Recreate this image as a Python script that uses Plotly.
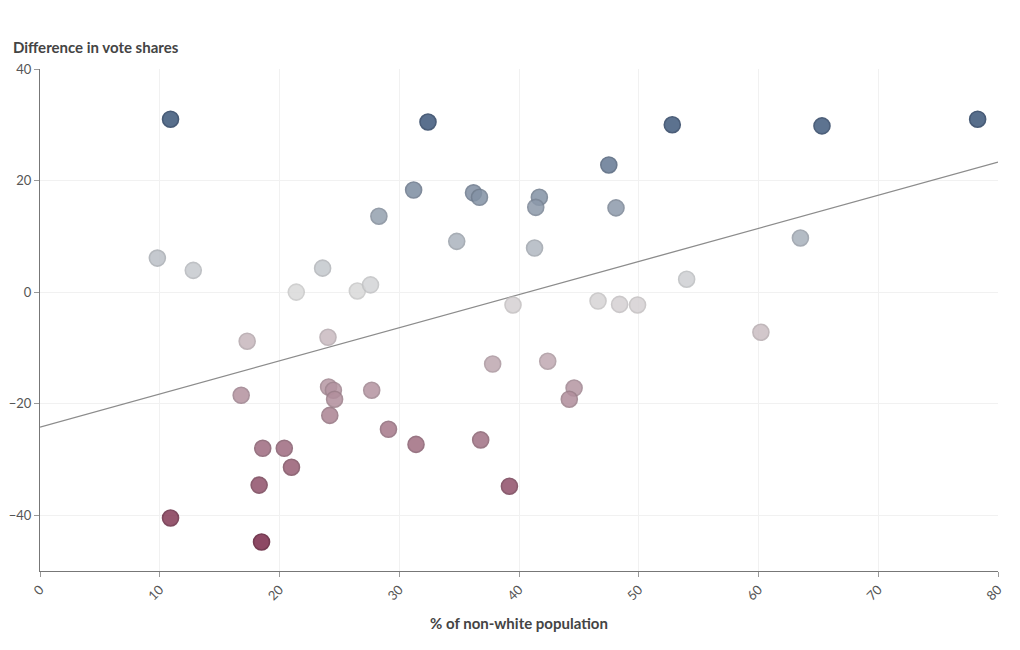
import plotly.graph_objects as go

# % of non-white population per area
pct_nonwhite = [
    10.9, 32.4, 52.8, 65.3, 78.3, 47.5, 31.2, 36.2, 36.7, 41.7,
    41.4, 48.1, 28.3, 34.8, 41.3, 63.5, 9.8, 12.8, 23.6, 21.4,
    26.5, 27.6, 39.5, 46.6, 48.4, 49.9, 54.0, 60.2, 17.3, 24.05,
    37.8, 42.4, 16.8, 24.1, 24.5, 24.6, 24.2, 27.7, 44.6, 44.2,
    29.1, 31.4, 36.8, 18.6, 20.4, 21.0, 18.3, 39.2, 10.9, 18.5,
]
# difference in vote shares
vote_diff = [
    31.0, 30.5, 30.0, 29.8, 31.0, 22.8, 18.3, 17.8, 17.0, 17.0,
    15.2, 15.1, 13.6, 9.1, 7.9, 9.7, 6.1, 3.9, 4.3, 0.0,
    0.2, 1.3, -2.3, -1.6, -2.2, -2.3, 2.3, -7.2, -8.8, -8.1,
    -12.9, -12.4, -18.5, -17.0, -17.6, -19.2, -22.1, -17.6, -17.2, -19.2,
    -24.6, -27.3, -26.5, -28.0, -28.0, -31.4, -34.6, -34.8, -40.5, -44.8,
]
# trend line
trend_x = [0, 80]
trend_y = [-24.2, 23.3]

cmin, cmax = -45, 31
mid = (0 - cmin) / (cmax - cmin)
fill_scale = [[0, "#7a2848"], [mid, "#dadada"], [1, "#3b5679"]]
line_scale = [[0, "#5e1a35"], [mid, "#c8c8c8"], [1, "#283f5f"]]

fig = go.Figure()

fig.add_trace(go.Scatter(
    x=trend_x, y=trend_y, mode="lines",
    line=dict(color="#8c8c8c", width=1.3),
    hoverinfo="skip", showlegend=False,
))

fig.add_trace(go.Scatter(
    x=pct_nonwhite, y=vote_diff, mode="markers",
    marker=dict(
        size=16, color=vote_diff, colorscale=fill_scale,
        cmin=cmin, cmax=cmax, opacity=0.85,
        line=dict(width=1.6, color=vote_diff, colorscale=line_scale,
                  cmin=cmin, cmax=cmax),
    ),
    showlegend=False,
))

font = "Lato, 'Open Sans', sans-serif"

# page body has an 8px margin, so margins are offset to keep the plot in place
fig.update_layout(
    width=1020, height=650,
    margin=dict(l=32, r=30, t=61, b=87),
    plot_bgcolor="white", paper_bgcolor="white",
    font=dict(family=font, size=13, color="#555"),
    xaxis=dict(
        range=[0, 80], dtick=10, tick0=0, tickangle=-45,
        automargin=False,
        showgrid=True, gridcolor="#f1f1f1", zeroline=False,
        showline=True, linecolor="#777", linewidth=1,
        ticks="outside", ticklen=5, tickcolor="#999",
        title=dict(text="<b>% of non-white population</b>",
                   font=dict(size=15, color="#444"), standoff=16),
    ),
    yaxis=dict(
        range=[-50, 40], dtick=20, tick0=0,
        automargin=False,
        showgrid=True, gridcolor="#f1f1f1", zeroline=False,
        showline=True, linecolor="#777", linewidth=1,
        ticks="outside", ticklen=5, tickcolor="#999",
    ),
    annotations=[dict(
        text="<b>Difference in vote shares</b>",
        xref="paper", yref="paper", x=0, y=1,
        xshift=-29, yshift=22, xanchor="left", yanchor="middle",
        showarrow=False, font=dict(size=15, color="#444"),
    )],
)

fig.write_html("out.html")
